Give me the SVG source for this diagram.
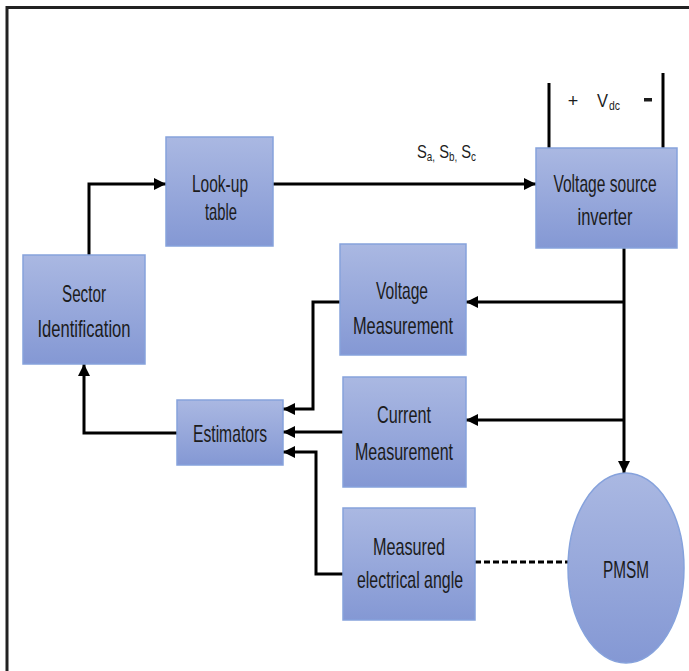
<svg xmlns="http://www.w3.org/2000/svg" width="689" height="671" viewBox="0 0 689 671">
  <defs>
    <linearGradient id="boxFill" x1="0" y1="0" x2="0" y2="1">
      <stop offset="0" stop-color="#aab8e2"/>
      <stop offset="1" stop-color="#8498d4"/>
    </linearGradient>
    <marker id="arrow" markerUnits="userSpaceOnUse" markerWidth="14" markerHeight="14" refX="12" refY="6" orient="auto">
      <path d="M0,0 L12,6 L0,12 z" fill="#000"/>
    </marker>
    <style>
      .box { fill: url(#boxFill); stroke: #86a2dc; stroke-width: 1.5; }
      .lbl { font-family: "Liberation Sans", Arial, sans-serif; font-size: 24px; fill: #1c1c1c; text-anchor: middle; }
      .wire { fill: none; stroke: #000; stroke-width: 3; }
      .arr { marker-end: url(#arrow); }
    </style>
  </defs>

  <rect width="689" height="671" fill="#fff"/>
  <!-- outer frame (top and left edges) -->
  <path d="M7,671 V7.5 H689" fill="none" stroke="#222" stroke-width="3"/>

  <g id="connectors">
    <path class="wire arr" d="M89,255 V184 H166"/>
    <path class="wire arr" d="M273,184 H536"/>
    <path class="wire arr" d="M624,248 V473"/>
    <path class="wire arr" d="M624,302 H466"/>
    <path class="wire arr" d="M624,420 H466"/>
    <path class="wire arr" d="M340,302 H313 V409 H283"/>
    <path class="wire arr" d="M343,432 H283"/>
    <path class="wire arr" d="M343,574 H316 V452 H283"/>
    <path class="wire arr" d="M177,433 H84 V364"/>
    <path class="wire" d="M475,562 H568" stroke-dasharray="6,3"/>
    <!-- DC link terminals -->
    <path class="wire" d="M549,83 V155"/>
    <path class="wire" d="M663,73 V153"/>
  </g>

  <g id="dc-label">
    <text class="lbl" x="573" y="107" style="font-size:18px">+</text>
    <text x="597" y="107" font-family="Liberation Sans, Arial, sans-serif" font-size="18" fill="#1c1c1c" textLength="11" lengthAdjust="spacingAndGlyphs">V</text>
    <text x="609" y="110" font-family="Liberation Sans, Arial, sans-serif" font-size="12" fill="#1c1c1c" textLength="11" lengthAdjust="spacingAndGlyphs">dc</text>
    <rect x="644" y="98" width="8" height="3.5" fill="#1c1c1c"/>
  </g>

  <g id="switch-label" transform="translate(417,0) scale(0.82,1)">
    <text font-family="Liberation Sans, Arial, sans-serif" font-size="18" fill="#1c1c1c" y="158"><tspan x="0">S</tspan><tspan font-size="12" dy="3">a,</tspan><tspan font-size="18" dy="-3"> S</tspan><tspan font-size="12" dy="3">b,</tspan><tspan font-size="18" dy="-3"> S</tspan><tspan font-size="12" dy="3">c</tspan></text>
  </g>

  <g id="lookup-table">
    <rect class="box" x="166" y="137" width="107" height="109"/>
    <text class="lbl" x="220" y="192" textLength="56" lengthAdjust="spacingAndGlyphs">Look-up</text>
    <text class="lbl" x="221" y="220" textLength="32" lengthAdjust="spacingAndGlyphs">table</text>
  </g>

  <g id="inverter">
    <rect class="box" x="536" y="148" width="141" height="100"/>
    <text class="lbl" transform="translate(605,192) scale(0.65,1)" x="0" y="0">Voltage source</text>
    <text class="lbl" x="605" y="225" textLength="55" lengthAdjust="spacingAndGlyphs">inverter</text>
  </g>

  <g id="sector-identification">
    <rect class="box" x="23" y="255" width="122" height="109"/>
    <text class="lbl" x="84" y="302" textLength="44" lengthAdjust="spacingAndGlyphs">Sector</text>
    <text class="lbl" x="84" y="337" textLength="93" lengthAdjust="spacingAndGlyphs">Identification</text>
  </g>

  <g id="voltage-measurement">
    <rect class="box" x="340" y="244" width="126" height="111"/>
    <text class="lbl" x="402" y="299" textLength="52" lengthAdjust="spacingAndGlyphs">Voltage</text>
    <text class="lbl" x="403" y="334" textLength="100" lengthAdjust="spacingAndGlyphs">Measurement</text>
  </g>

  <g id="current-measurement">
    <rect class="box" x="343" y="377" width="123" height="110"/>
    <text class="lbl" x="404" y="423" textLength="54" lengthAdjust="spacingAndGlyphs">Current</text>
    <text class="lbl" x="404" y="460" textLength="98" lengthAdjust="spacingAndGlyphs">Measurement</text>
  </g>

  <g id="estimators">
    <rect class="box" x="177" y="400" width="106" height="65"/>
    <text class="lbl" x="230" y="442" textLength="74" lengthAdjust="spacingAndGlyphs">Estimators</text>
  </g>

  <g id="measured-angle">
    <rect class="box" x="343" y="508" width="132" height="112"/>
    <text class="lbl" x="409" y="555" textLength="72" lengthAdjust="spacingAndGlyphs">Measured</text>
    <text class="lbl" x="410" y="588" textLength="106" lengthAdjust="spacingAndGlyphs">electrical angle</text>
  </g>

  <g id="pmsm">
    <ellipse class="box" cx="626" cy="568" rx="58" ry="95"/>
    <text class="lbl" x="626" y="578" textLength="46" lengthAdjust="spacingAndGlyphs">PMSM</text>
  </g>
</svg>
